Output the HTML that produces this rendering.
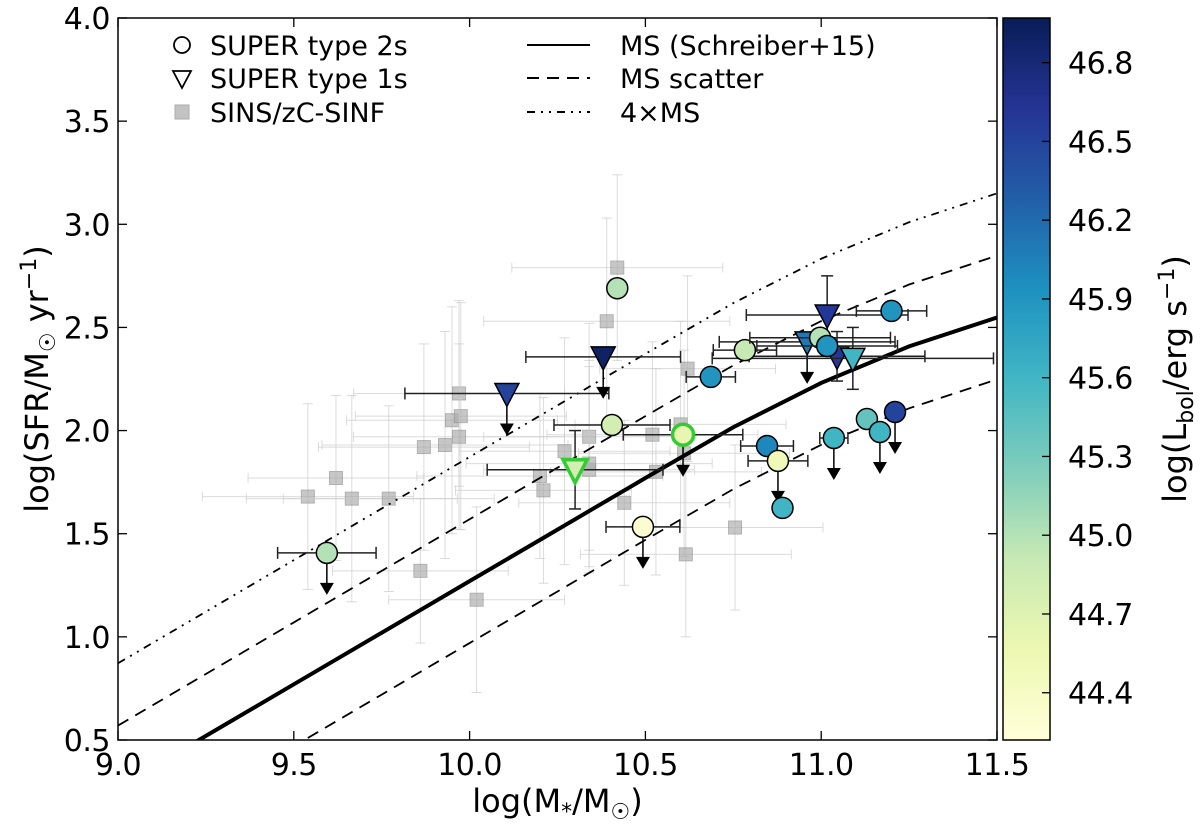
<!DOCTYPE html>
<html><head><meta charset="utf-8"><style>
body{margin:0;background:#fff}
svg{display:block;font-family:"DejaVu Sans","Liberation Sans",sans-serif}
</style></head><body>
<svg id="c" width="1200" height="832" viewBox="0 0 1200 832"></svg>
<script>
// ---- data ----
const t2X=[9.594,10.42,10.405,10.607,10.493,10.783,10.686,10.997,11.017,11.2,10.846,10.877,10.89,11.036,11.13,11.167,11.21];
const t2Y=[1.407,2.69,2.027,1.98,1.533,2.39,2.26,2.45,2.41,2.58,1.925,1.853,1.625,1.964,2.056,1.993,2.09];
const t2L=[45.0,45.0,44.8,44.6,44.3,44.9,45.9,45.0,45.9,45.9,46.0,44.5,45.6,45.6,45.4,45.6,46.5];
const t2Xe=[0.14,0,0.165,0.17,0.105,0.09,0.07,0.2,0.2,0.1,0.075,0.085,0,0.04,0,0,0];
const t2Up=[1,0,0,1,1,0,0,0,0,0,0,1,0,1,0,1,1];
const t2Edge=[0,0,0,1,0,0,0,0,0,0,0,0,0,0,0,0,0];
const t1X=[10.106,10.38,11.017,10.96,11.045,11.09,10.3];
const t1Y=[2.18,2.357,2.56,2.43,2.36,2.35,1.81];
const t1L=[46.5,46.9,46.6,46.1,46.6,45.6,44.8];
const t1Xe=[0.29,0.22,0.23,0.25,0.25,0.4,0.25];
const t1Ye=[0,0,0.19,0,0.12,0.15,0.19];
const t1Up=[1,1,0,1,0,0,0];
const t1Edge=[0,0,0,0,0,0,1];
const sqX=[9.54,9.62,9.665,9.77,9.86,9.87,9.93,9.95,9.97,9.975,9.97,10.02,10.2,10.21,10.27,10.34,10.34,10.39,10.42,10.44,10.34,10.52,10.53,10.61,10.62,10.615,10.755,10.6];
const sqY=[1.68,1.77,1.67,1.67,1.32,1.92,1.93,2.05,2.18,2.07,1.97,1.18,1.78,1.71,1.9,1.97,1.81,2.53,2.79,1.65,1.84,1.98,1.8,1.89,2.3,1.4,1.53,2.03];
const sqXe=[0.3,0.25,0.3,0.3,0.25,0.3,0.35,0.3,0.3,0.3,0.3,0.25,0.35,0.25,0.3,0.3,0.3,0.35,0.3,0.3,0.35,0.3,0.3,0.3,0.25,0.3,0.25,0.3];
const sqYe=[0.45,0.4,0.5,0.45,0.35,0.5,0.55,0.55,0.45,0.55,0.45,0.45,0.4,0.45,0.55,0.55,0.5,0.5,0.45,0.4,0.5,0.45,0.5,0.5,0.45,0.4,0.4,0.5];
const msX=[9.0,9.25,9.5,9.75,10.0,10.25,10.5,10.75,11.0,11.25,11.5];
const msY=[0.27,0.52,0.77,1.02,1.27,1.52,1.77,2.016,2.231,2.408,2.548];
const xTicks=[9.0,9.5,10.0,10.5,11.0,11.5];
const xTickLabels=["9.0","9.5","10.0","10.5","11.0","11.5"];
const yTicks=[0.5,1.0,1.5,2.0,2.5,3.0,3.5,4.0];
const yTickLabels=["0.5","1.0","1.5","2.0","2.5","3.0","3.5","4.0"];
const cTicks=[44.4,44.7,45.0,45.3,45.6,45.9,46.2,46.5,46.8];
const cTickLabels=["44.4","44.7","45.0","45.3","45.6","45.9","46.2","46.5","46.8"];

// ---- axes ----
const L=118,R=997,T=18,B=740, X0=9,X1=11.5,Y0=0.5,Y1=4;
const sx=v=>L+(v-X0)/(X1-X0)*(R-L);
const sy=v=>B-(v-Y0)/(Y1-Y0)*(B-T);
const CV0=44.22,CV1=46.97,CT=18,CB=740,CL=1003,CR=1050;
const cy=v=>CB-(v-CV0)/(CV1-CV0)*(CB-CT);
const stops=["#ffffd9","#edf8b1","#c7e9b4","#7fcdbb","#41b6c4","#1d91c0","#225ea8","#253494","#081d58"];
function hex(h){return [1,3,5].map(i=>parseInt(h.substr(i,2),16));}
function cmap(v){let t=Math.max(0,Math.min(1,(v-CV0)/(CV1-CV0)))*(stops.length-1);let i=Math.min(stops.length-2,Math.floor(t));let f=t-i;let a=hex(stops[i]),b=hex(stops[i+1]);return "rgb("+a.map((x,k)=>Math.round(x+(b[k]-x)*f)).join(",")+")";}

const svg=document.getElementById('c');
const NS="http://www.w3.org/2000/svg";
function mk(tag,attrs,parent){const e=document.createElementNS(NS,tag);for(const k in attrs)e.setAttribute(k,attrs[k]);(parent||svg).appendChild(e);return e;}

const defs=mk('defs',{});
const cp=mk('clipPath',{id:'clip'},defs);mk('rect',{x:L,y:T,width:R-L,height:B-T},cp);
const plot=mk('g',{'clip-path':'url(#clip)'});



sqX.forEach((x,i)=>{
  const g=mk('g',{},plot);
  
  
  const px=sx(x),py=sy(sqY[i]);
  const x1=sx(x-sqXe[i]),x2=sx(x+sqXe[i]),y1=sy(sqY[i]-sqYe[i]),y2=sy(sqY[i]+sqYe[i]);
  const st={stroke:'#ccc','stroke-width':1,opacity:0.7};
  mk('line',Object.assign({x1:x1,x2:x2,y1:py,y2:py},st),g);
  mk('line',Object.assign({x1:px,x2:px,y1:y1,y2:y2},st),g);
  [x1,x2].forEach(q=>mk('line',Object.assign({x1:q,x2:q,y1:py-5,y2:py+5},st),g));
  [y1,y2].forEach(q=>mk('line',Object.assign({x1:px-5,x2:px+5,y1:q,y2:q},st),g));
  mk('rect',{x:px-6.5,y:py-6.5,width:13,height:13,fill:'#aaa',stroke:'#888','stroke-width':1,opacity:0.65},g);
});

function curve(off,dash,w,name){
  const p=mk('polyline',{points:msX.map((x,i)=>sx(x)+','+sy(msY[i]+off)).join(' '),fill:'none',stroke:'#000','stroke-width':w},plot);
  if(dash)p.setAttribute('stroke-dasharray',dash);
  
  
}
curve(0,null,4,'ms-line');
curve(0.3,'12,8',1.8,'ms-scatter-upper');
curve(-0.3,'12,8',1.8,'ms-scatter-lower');
curve(0.602,'8,6,2,6,2,6',1.8,'ms-4x-line');

function errs(g,px,py,xlo,xhi,ylo,yhi){
  const st={stroke:'#222','stroke-width':1.5};
  if(xlo!==xhi){mk('line',Object.assign({x1:xlo,x2:xhi,y1:py,y2:py},st),g);
    [xlo,xhi].forEach(q=>mk('line',Object.assign({x1:q,x2:q,y1:py-6,y2:py+6},st),g));}
  if(ylo!==yhi){mk('line',Object.assign({x1:px,x2:px,y1:ylo,y2:yhi},st),g);
    [ylo,yhi].forEach(q=>mk('line',Object.assign({x1:px-6,x2:px+6,y1:q,y2:q},st),g));}
}
function arrow(g,px,py){
  mk('line',{x1:px,x2:px,y1:py,y2:py+36,stroke:'#000','stroke-width':1.5},g);
  mk('polygon',{points:`${px-7},${py+30} ${px+7},${py+30} ${px},${py+42}`,fill:'#000'},g);
}
t1X.forEach((x,i)=>{
  const g=mk('g',{},plot);
  
  
  const px=sx(x),py=sy(t1Y[i]);
  errs(g,px,py,sx(x-t1Xe[i]),sx(x+t1Xe[i]),sy(t1Y[i]-t1Ye[i]),sy(t1Y[i]+t1Ye[i]));
  if(t1Up[i])arrow(g,px,py);
  const e=t1Edge[i];
  mk('polygon',{points:`${px-12},${py-10} ${px+12},${py-10} ${px},${py+13}`,fill:cmap(t1L[i]),stroke:e?'#33cc33':'#000','stroke-width':e?3.5:1.5},g);
});
t2X.forEach((x,i)=>{
  const g=mk('g',{},plot);
  
  
  const px=sx(x),py=sy(t2Y[i]);
  if(t2Xe[i])errs(g,px,py,sx(x-t2Xe[i]),sx(x+t2Xe[i]),py,py);
  if(t2Up[i])arrow(g,px,py);
  const e=t2Edge[i];
  mk('circle',{cx:px,cy:py,r:10.5,fill:cmap(t2L[i]),stroke:e?'#33cc33':'#000','stroke-width':e?3.5:1.5},g);
});

const fr=mk('rect',{x:L,y:T,width:R-L,height:B-T,fill:'none',stroke:'#000','stroke-width':1.5});

xTicks.forEach((v,i)=>{
  const px=sx(v);
  mk('line',{x1:px,x2:px,y1:B,y2:B-9,stroke:'#000','stroke-width':1.3});
  mk('line',{x1:px,x2:px,y1:T,y2:T+9,stroke:'#000','stroke-width':1.3});
  const t=mk('text',{x:px,y:B+35,'font-size':30,'text-anchor':'middle','letter-spacing':-0.5});t.textContent=xTickLabels[i];
  
});
yTicks.forEach((v,i)=>{
  const py=sy(v);
  mk('line',{x1:L,x2:L+9,y1:py,y2:py,stroke:'#000','stroke-width':1.3});
  mk('line',{x1:R,x2:R-9,y1:py,y2:py,stroke:'#000','stroke-width':1.3});
  const t=mk('text',{x:L-8,y:py+11,'font-size':30,'text-anchor':'end','letter-spacing':-0.5});t.textContent=yTickLabels[i];
  
});
let xt=mk('text',{x:(L+R)/2,y:812,'font-size':32,'text-anchor':'middle'});
xt.innerHTML='log(M<tspan font-size="22" dy="7">*</tspan><tspan dy="-7">/M</tspan><tspan font-size="22" dy="7">☉</tspan><tspan dy="-7">)</tspan>';

let yt=mk('text',{x:0,y:0,'font-size':32,'text-anchor':'middle',transform:`translate(48,${(T+B)/2}) rotate(-90)`});
yt.innerHTML='log(SFR/M<tspan font-size="22" dy="7">☉</tspan><tspan dy="-7"> yr</tspan><tspan font-size="22" dy="-12">−1</tspan><tspan dy="12">)</tspan>';


const lg=mk('linearGradient',{id:'cg',x1:0,y1:1,x2:0,y2:0},defs);
stops.forEach((c,i)=>mk('stop',{offset:i/(stops.length-1),'stop-color':c},lg));
const cb=mk('rect',{x:CL,y:CT,width:CR-CL,height:CB-CT,fill:'url(#cg)',stroke:'#000','stroke-width':1.5});

cTicks.forEach((v,i)=>{
  const py=cy(v);
  mk('line',{x1:CR,x2:CR-8,y1:py,y2:py,stroke:'#000','stroke-width':1.3});
  const t=mk('text',{x:CR+18,y:py+11,'font-size':30,'letter-spacing':-0.5});t.textContent=cTickLabels[i];
  
});
let ct=mk('text',{x:0,y:0,'font-size':32,'text-anchor':'middle',transform:`translate(1186,${(CT+CB)/2}) rotate(-90)`});
ct.innerHTML='log(L<tspan font-size="22" dy="7">bol</tspan><tspan dy="-7">/erg s</tspan><tspan font-size="22" dy="-12">−1</tspan><tspan dy="12">)</tspan>';


const lgG=mk('g',{});

mk('circle',{cx:182,cy:45,r:8,fill:'#fff',stroke:'#000','stroke-width':1.8},lgG);
mk('polygon',{points:'173,71 191,71 182,88',fill:'#fff',stroke:'#000','stroke-width':1.8},lgG);
mk('rect',{x:175,y:105,width:14,height:14,fill:'#aaa',stroke:'#888',opacity:0.7},lgG);
mk('line',{x1:527,x2:590,y1:45,y2:45,stroke:'#000','stroke-width':2},lgG);
mk('line',{x1:527,x2:590,y1:78,y2:78,stroke:'#000','stroke-width':2,'stroke-dasharray':'12,8'},lgG);
mk('line',{x1:527,x2:590,y1:112,y2:112,stroke:'#000','stroke-width':2,'stroke-dasharray':'8,6,2,6,2,6'},lgG);
[["SUPER type 2s",210,55],["SUPER type 1s",210,88],["SINS/zC-SINF",210,122],["MS (Schreiber+15)",620,55],["MS scatter",620,88]].forEach(a=>{
  const t=mk('text',{x:a[1],y:a[2],'font-size':27},lgG);t.textContent=a[0];
  
});
const t4=mk('text',{x:620,y:122,'font-size':27},lgG);t4.textContent='4×MS';

</script>
</body></html>
